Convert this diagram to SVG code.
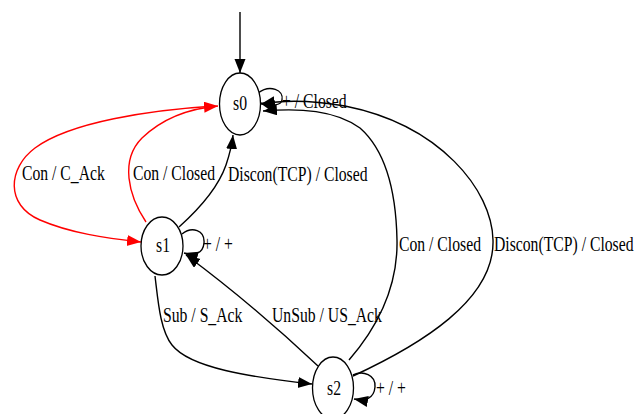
<svg xmlns="http://www.w3.org/2000/svg" width="644" height="414" viewBox="0 0 644 414">
  <style>
    .node ellipse { fill: #ffffff; stroke: #000000; stroke-width: 1.3; }
    .node text, .lab { font-family: "Liberation Serif", "Times New Roman", serif; font-size: 15.7px; fill: #000000; }
    .node text { text-anchor: middle; }
    .e { fill: none; stroke: #000000; stroke-width: 1.4; marker-end: url(#ah); }
    .e.red { stroke: #ff0000; marker-end: url(#ahr); }
  </style>
  <defs>
    <marker id="ah" markerUnits="userSpaceOnUse" markerWidth="15" markerHeight="12" refX="14" refY="5.5" orient="auto">
      <path d="M0,0 L14,5.5 L0,11 z" fill="#000000"/>
    </marker>
    <marker id="ahr" markerUnits="userSpaceOnUse" markerWidth="15" markerHeight="12" refX="14" refY="5.5" orient="auto">
      <path d="M0,0 L14,5.5 L0,11 z" fill="#ff0000"/>
    </marker>
  </defs>
  <rect width="644" height="414" fill="#ffffff"/>

  <g id="connectors">
    <!-- initial arrow -->
    <path class="e" d="M240,12 L240,73"/>
    <!-- s0 self loop -->
    <path class="e" d="M258,93 C270,84 284,90 282,100 C281,106 272,106 260,103"/>
    <!-- s2 -> s0 outer -->
    <path class="e" d="M353,376 C420,345 495,300 493,240 C492,190 440,125 345,106 C305,99 278,101 261,104"/>
    <!-- s2 -> s0 inner -->
    <path class="e" d="M349,360 C375,330 398,290 397,240 C396,190 385,150 360,128 C335,110 300,108 263,111"/>
    <!-- s1 -> s0 -->
    <path class="e" d="M179,227 C198,210 218,188 226,165 C230,153 232,145 233,135"/>
    <!-- s1 self loop -->
    <path class="e" d="M182,234 C192,226 205,230 204,243 C203,254 194,256 184,253"/>
    <!-- s2 -> s1 -->
    <path class="e" d="M318,366 C285,335 240,295 186,255"/>
    <!-- s1 -> s2 -->
    <path class="e" d="M155,276 C158,300 160,330 172,345 C190,368 250,377 312,384"/>
    <!-- s2 self loop -->
    <path class="e" d="M353,375 C363,370 376,375 375,387 C374,399 365,401 354,399"/>
    <!-- s0 -> s1 (red) -->
    <path class="e red" d="M215,106 C150,110 70,122 35,148 C8,168 5,205 40,220 C70,233 105,238 141,242"/>
    <!-- s1 -> s0 (red) -->
    <path class="e red" d="M146,222 C128,195 120,160 142,138 C165,116 195,108 218,106"/>
  </g>

  <!-- edge labels: narrow, tall serif lettering -->
  <g id="labels">
    <text class="lab" transform="translate(282,108) scale(1,1.33)">+ / Closed</text>
    <text class="lab" transform="translate(22,180) scale(1,1.33)">Con / C_Ack</text>
    <text class="lab" transform="translate(133,180) scale(1,1.33)">Con / Closed</text>
    <text class="lab" transform="translate(228,181) scale(1,1.33)">Discon(TCP) / Closed</text>
    <text class="lab" transform="translate(203,251) scale(1,1.33)">+ / +</text>
    <text class="lab" transform="translate(399,251) scale(1,1.33)">Con / Closed</text>
    <text class="lab" transform="translate(494,251) scale(1,1.33)">Discon(TCP) / Closed</text>
    <text class="lab" transform="translate(163,322) scale(1,1.33)">Sub / S_Ack</text>
    <text class="lab" transform="translate(272,322) scale(1,1.33)">UnSub / US_Ack</text>
    <text class="lab" transform="translate(376,395) scale(1,1.33)">+ / +</text>
  </g>

  <g id="s0" class="node">
    <ellipse cx="240" cy="104" rx="20.5" ry="31"/>
    <text transform="translate(240,110) scale(1,1.33)">s0</text>
  </g>
  <g id="s1" class="node">
    <ellipse cx="162" cy="246" rx="21" ry="29"/>
    <text transform="translate(163,252) scale(1,1.33)">s1</text>
  </g>
  <g id="s2" class="node">
    <ellipse cx="333" cy="388" rx="20.5" ry="31"/>
    <text transform="translate(334,395) scale(1,1.33)">s2</text>
  </g>
</svg>
